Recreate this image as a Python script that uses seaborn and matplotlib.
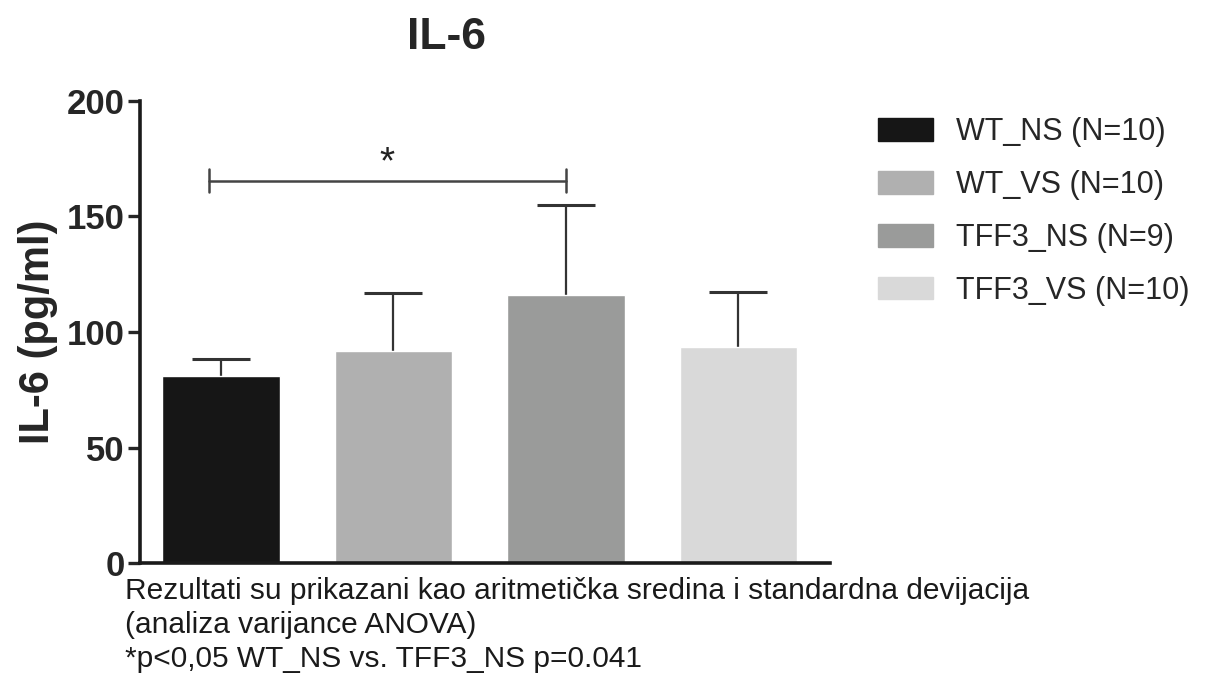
import matplotlib
matplotlib.use("Agg")
import matplotlib.pyplot as plt
import seaborn as sns
import pandas as pd
from matplotlib.patches import Patch

groups = ["WT_NS (N=10)", "WT_VS (N=10)", "TFF3_NS (N=9)", "TFF3_VS (N=10)"]
means = [81.0, 92.0, 116.0, 93.5]
sds = [7.5, 25.0, 39.0, 24.0]
colors = ["#161616", "#b0b0b0", "#9a9b9a", "#d9d9d9"]
yticks = [0, 50, 100, 150, 200]
footnote = ["Rezultati su prikazani kao aritmetička sredina i standardna devijacija",
            "(analiza varijance ANOVA)",
            "*p<0,05 WT_NS vs. TFF3_NS p=0.041"]

sns.set_style("ticks")
plt.rcParams['font.family'] = ['Liberation Sans', 'DejaVu Sans']

df = pd.DataFrame({"group": groups, "mean": means})

fig = plt.figure(figsize=(12.06, 6.77), dpi=100)
ax = fig.add_axes([0.116, 0.168, 0.572, 0.683])

sns.barplot(data=df, x="group", y="mean", hue="group", palette=colors,
            order=groups, hue_order=groups, dodge=False, errorbar=None,
            width=0.68, legend=False, ax=ax, saturation=1)
xs = list(range(len(groups)))
ax.errorbar(xs, means, yerr=sds, fmt="none", ecolor="#333333",
            elinewidth=1.6, capsize=21, capthick=2.2, zorder=1)
for p in ax.patches:
    p.set_zorder(2)
ax.set_xlim(-0.47, 3.53)
ax.set_ylim(0, 200)
ax.set_yticks(yticks)
ax.set_yticklabels([str(t) for t in yticks], fontsize=25, fontweight="bold")
ax.set_xticks([])
ax.set_xlabel("")
ax.set_ylabel("IL-6 (pg/ml)", fontsize=30, fontweight="bold", labelpad=6)
for s in ["top", "right"]:
    ax.spines[s].set_visible(False)
for s in ["left", "bottom"]:
    ax.spines[s].set_linewidth(2.6)
    ax.spines[s].set_color("#1a1a1a")
ax.tick_params(axis="y", width=2.4, length=9, pad=2)

# significance bracket
ax.plot([-0.07, 2.0], [165.5, 165.5], color="#444444", lw=1.8, clip_on=False)
ax.plot([-0.07, -0.07], [160.5, 170.5], color="#444444", lw=1.8, clip_on=False)
ax.plot([2.0, 2.0], [160.5, 170.5], color="#444444", lw=1.8, clip_on=False)
ax.text(0.96, 165, "*", ha="center", va="bottom", fontsize=28, color="#222222")

fig.text(0.37, 0.945, "IL-6", ha="center", va="center", fontsize=32, fontweight="bold")

handles = [Patch(facecolor=c, edgecolor=c) for c in colors]
fig.legend(handles, groups, loc="upper left", bbox_to_anchor=(0.718, 0.845),
           frameon=False, fontsize=22, handlelength=1.8, handleheight=0.75,
           labelspacing=0.75, handletextpad=0.75, borderaxespad=0)

for i, line in enumerate(footnote):
    fig.text(0.104, 0.127 - i * 0.05, line, ha="left", va="center", fontsize=21.5,
             color="#1a1a1a")

fig.savefig("out.png", dpi=100)
